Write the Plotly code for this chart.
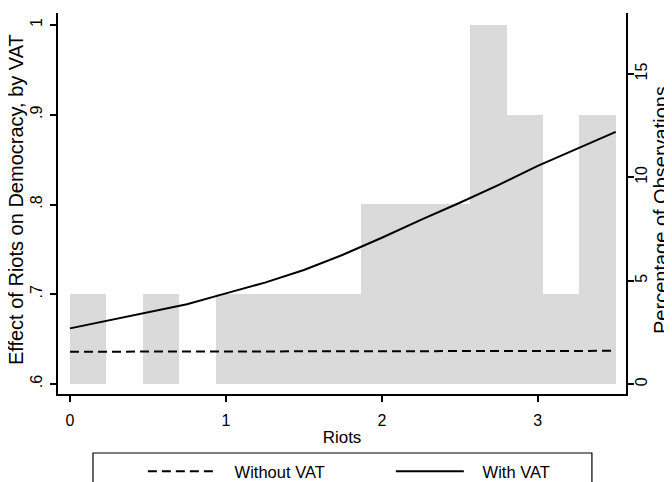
import plotly.graph_objects as go

# Histogram of riots (percentage of observations), bins of width 3.5/15
bin_centers = [0.1167, 0.35, 0.5833, 0.8167, 1.05, 1.2833, 1.5167, 1.75,
               1.9833, 2.2167, 2.45, 2.6833, 2.9167, 3.15, 3.3833]
bin_width = 0.2333
pct_obs = [4.35, 0, 4.35, 0, 4.35, 4.35, 4.35, 4.35,
           8.70, 8.70, 8.70, 17.39, 13.04, 4.35, 13.04]

# Marginal effect lines
riots = [0, 0.25, 0.5, 0.75, 1.0, 1.25, 1.5, 1.75, 2.0, 2.25, 2.5, 2.75, 3.0, 3.25, 3.5]
with_vat = [0.662, 0.671, 0.680, 0.689, 0.701, 0.713, 0.727, 0.744, 0.763,
            0.783, 0.802, 0.822, 0.843, 0.862, 0.881]
without_vat = [0.6360, 0.6361, 0.6362, 0.6362, 0.6363, 0.6364, 0.6365, 0.6365,
               0.6366, 0.6367, 0.6368, 0.6368, 0.6369, 0.6370, 0.6370]

x_ticks = [0, 1, 2, 3]
left_ticks = [0.6, 0.7, 0.8, 0.9, 1.0]
left_labels = [".6", ".7", ".8", ".9", "1"]
right_ticks = [0, 5, 10, 15]

FONT = "Liberation Sans, Arial, sans-serif"
NB = "\u00a0"
fig = go.Figure()

fig.add_trace(go.Bar(
    x=bin_centers, y=pct_obs, width=bin_width,
    marker=dict(color="#dadada", line=dict(width=0)),
    showlegend=False, yaxis="y", hoverinfo="skip"))

fig.add_trace(go.Scatter(
    x=riots, y=without_vat, mode="lines", name=NB * 3 + "Without VAT",
    line=dict(color="black", width=2, dash="9px,5px"), yaxis="y2"))
fig.add_trace(go.Scatter(
    x=riots, y=with_vat, mode="lines", name=NB * 3 + "With VAT",
    line=dict(color="black", width=2), yaxis="y2"))

axis_common = dict(showline=True, linecolor="black", linewidth=1.5,
                   ticks="outside", ticklen=6, tickwidth=1.5, tickcolor="black",
                   showgrid=False, zeroline=False, automargin=False,
                   tickfont=dict(family=FONT, size=16, color="black"))

# the page body adds an 8px offset, so the figure is 8px smaller than the window
fig.update_layout(
    width=664, height=474,
    margin=dict(l=50, r=46, t=5, b=88, autoexpand=False),
    paper_bgcolor="white", plot_bgcolor="white",
    font=dict(family=FONT, size=16, color="black"),
    bargap=0,
    xaxis=dict(range=[-0.077, 3.566], tickvals=x_ticks, ticklabelstandoff=5,
               title=dict(text="Riots", font=dict(family=FONT, size=17), standoff=3),
               **axis_common),
    yaxis=dict(range=[-0.48, 17.95], tickvals=right_ticks, side="right",
               tickangle=-90, ticklabelstandoff=-6,
               **axis_common),
    yaxis2=dict(range=[0.5889, 1.0134], tickvals=left_ticks, ticktext=left_labels,
                side="left", overlaying="y", tickangle=-90, ticklabelstandoff=2,
                **axis_common),
    legend=dict(orientation="h", x=0.1494, xanchor="left", y=-0.1575, yanchor="top",
                font=dict(family=FONT, size=16.5, color="black"),
                itemwidth=68, entrywidth=165, bgcolor="rgba(0,0,0,0)", borderwidth=0),
    annotations=[
        dict(text="Percentage of Observations", xref="paper", yref="paper",
             x=1.0616, y=0.483, xanchor="center", yanchor="middle",
             textangle=-90, showarrow=False,
             font=dict(family=FONT, size=20, color="black")),
        dict(text="Effect of Riots on Democracy, by VAT", xref="paper", yref="paper",
             x=-0.075, y=0.51, xanchor="center", yanchor="middle",
             textangle=-90, showarrow=False,
             font=dict(family=FONT, size=20, color="black")),
    ],
    shapes=[dict(type="rect", xref="paper", yref="paper",
                 x0=0.0616, x1=0.940, y0=-0.1549, y1=-0.30,
                 line=dict(color="black", width=1.2), fillcolor="rgba(0,0,0,0)")],
)

fig.write_html("out.html")
